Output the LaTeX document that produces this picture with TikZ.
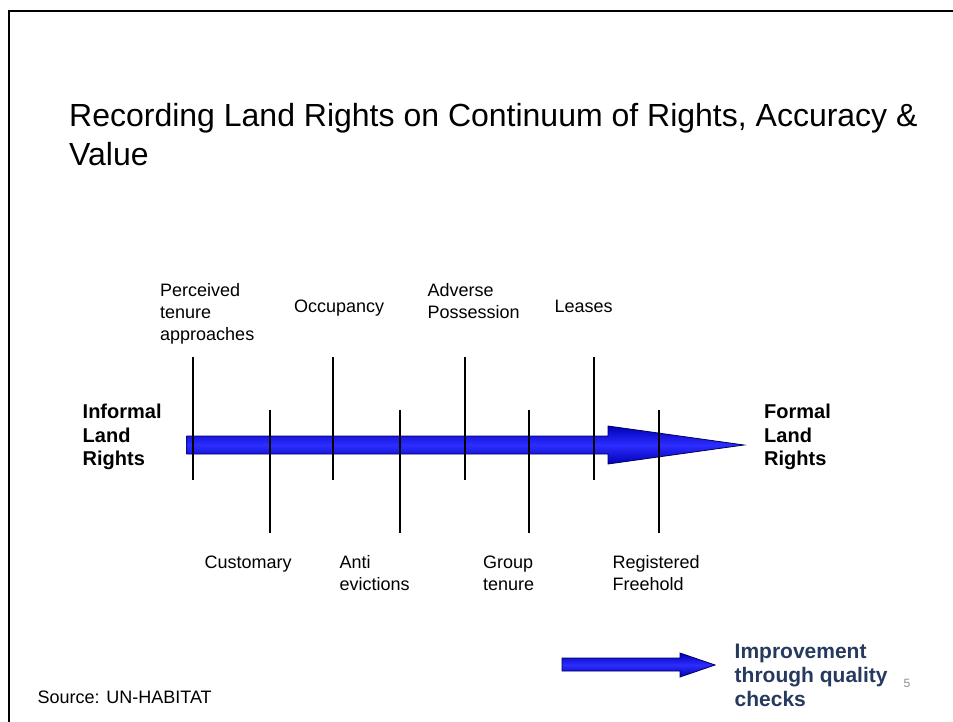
\documentclass[tikz,border=0pt]{standalone}
\usepackage{fontspec}
\setmainfont{Liberation Sans}
\definecolor{arrowedge}{RGB}{0,0,90}
\definecolor{arrowdark}{RGB}{0,0,185}
\definecolor{arrowlight}{RGB}{45,45,255}
\definecolor{noteblue}{RGB}{38,58,96}
\definecolor{pagegrey}{RGB}{140,140,140}
\begin{document}
\begin{tikzpicture}[x=1pt,y=-1pt,
  lbl/.style={anchor=base west,inner sep=0pt,font=\fontsize{18}{21}\selectfont},
  blbl/.style={anchor=base west,inner sep=0pt,font=\fontsize{20}{23}\selectfont\bfseries},
  ttl/.style={anchor=base west,inner sep=0pt,font=\fontsize{32}{38}\selectfont},
  note/.style={anchor=base west,inner sep=0pt,text=noteblue,font=\fontsize{21}{24}\selectfont\bfseries},
  tick/.style={line width=2pt,black},
  bluearrow/.style={draw=arrowedge,line width=0.8pt,top color=arrowdark,bottom color=arrowdark,middle color=arrowlight}
]
\useasboundingbox (0,0) rectangle (953,722);
% frame
\draw[line width=2.6pt] (9,722) -- (9,11) -- (953,11);
% title
\node[ttl] (t1) at (69,127) {Recording Land Rights on Continuum of Rights, Accuracy \&};
\node[ttl] (t2) at (69,165.4) {Value};
% big arrow
\path[bluearrow] (186.7,436) -- (608,436) -- (608,426) -- (744,445) -- (608,464) -- (608,454) -- (186.7,454) -- cycle;
% ticks (upper)
\draw[tick] (192.7,357) -- (192.7,480);
\draw[tick] (333,357) -- (333,480);
\draw[tick] (465,357) -- (465,480);
\draw[tick] (594,357) -- (594,480);
% ticks (lower)
\draw[tick] (270,410) -- (270,533);
\draw[tick] (400,410) -- (400,533);
\draw[tick] (529,410) -- (529,533);
\draw[tick] (659,410) -- (659,533);
% upper labels
\node[lbl] (p1) at (160,296) {Perceived};
\node[lbl] (p2) at (160,318) {tenure};
\node[lbl] (p3) at (160,340) {approaches};
\node[lbl] (occ) at (294,312) {Occupancy};
\node[lbl] (ad1) at (427.5,296) {Adverse};
\node[lbl] (ad2) at (427.5,318) {Possession};
\node[lbl] (lea) at (554.5,312) {Leases};
% lower labels
\node[lbl] (cus) at (204.5,568) {Customary};
\node[lbl] (an1) at (339.5,568) {Anti};
\node[lbl] (an2) at (339.5,590) {evictions};
\node[lbl] (gr1) at (483,568) {Group};
\node[lbl] (gr2) at (483,590) {tenure};
\node[lbl] (re1) at (612.5,568) {Registered};
\node[lbl] (re2) at (612.5,590) {Freehold};
% side labels
\node[blbl] (in1) at (82.5,418) {Informal};
\node[blbl] (in2) at (82.5,442) {Land};
\node[blbl] (in3) at (82.5,465) {Rights};
\node[blbl] (fo1) at (764,418) {Formal};
\node[blbl] (fo2) at (764,442) {Land};
\node[blbl] (fo3) at (764,465) {Rights};
% legend arrow and note
\path[bluearrow] (562,658) -- (680,658) -- (680,653) -- (715,665) -- (680,677) -- (680,671) -- (562,671) -- cycle;
\node[note] (im1) at (734.5,658) {Improvement};
\node[note] (im2) at (734.5,682) {through quality};
\node[note] (im3) at (734.5,706) {checks};
\node[inner sep=0pt,text=pagegrey,font=\fontsize{12}{14}\selectfont] (pg) at (907,683) {5};
% source
\node[lbl] (src) at (37.5,703) {Source: UN-HABITAT};
\end{tikzpicture}
\end{document}
